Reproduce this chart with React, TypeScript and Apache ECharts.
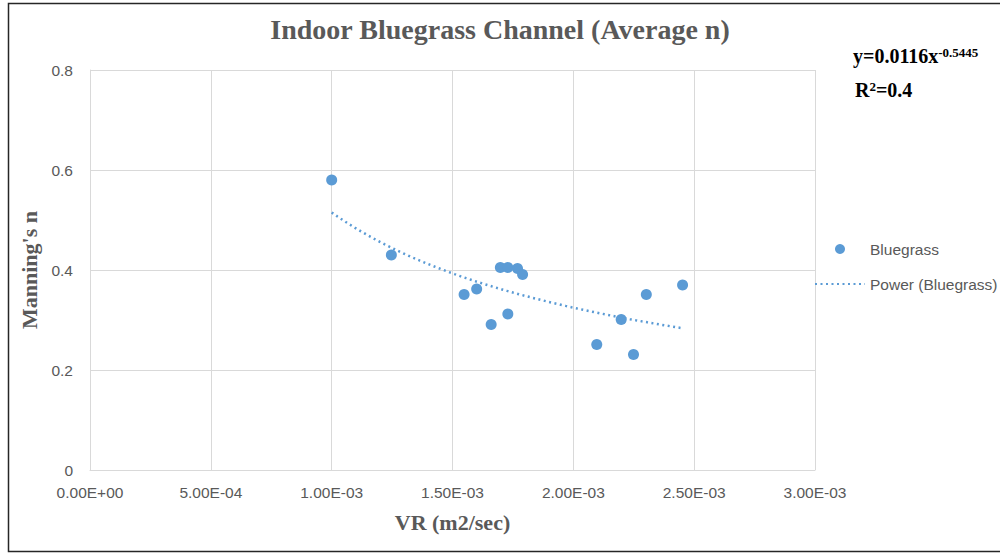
import React, { useEffect, useRef } from "react";
import * as echarts from "echarts";

const vrValues = [1.0e-3, 1.247e-3, 1.548e-3, 1.6e-3, 1.66e-3, 1.698e-3, 1.729e-3, 1.729e-3, 1.769e-3, 1.79e-3, 2.097e-3, 2.198e-3, 2.249e-3, 2.302e-3, 2.452e-3];
const manningN = [0.58, 0.43, 0.351, 0.362, 0.291, 0.405, 0.405, 0.312, 0.403, 0.391, 0.251, 0.301, 0.231, 0.351, 0.37];
const xTicks = { min: 0, max: 0.003, interval: 0.0005 };
const yTicks = { min: 0, max: 0.8, interval: 0.2 };
const seriesName = "Bluegrass";
const trendName = "Power (Bluegrass)";

function powerFit(xs: number[], ys: number[]) {
  const lx = xs.map(Math.log);
  const ly = ys.map(Math.log);
  const n = xs.length;
  const mx = lx.reduce((a, b) => a + b, 0) / n;
  const my = ly.reduce((a, b) => a + b, 0) / n;
  let sxy = 0, sxx = 0;
  for (let i = 0; i < n; i++) {
    sxy += (lx[i] - mx) * (ly[i] - my);
    sxx += (lx[i] - mx) * (lx[i] - mx);
  }
  const b = sxy / sxx;
  const a = Math.exp(my - b * mx);
  return { a, b };
}

function sciFormat(v: number) {
  const s = v.toExponential(2);
  const [m, e] = s.split("e");
  const sign = e[0] === "-" ? "-" : "+";
  const digits = e.replace(/^[+-]/, "").padStart(2, "0");
  return `${m}E${sign}${digits}`;
}

export default function App() {
  const ref = useRef<HTMLDivElement>(null);
  useEffect(() => {
    if (!ref.current) return;
    const chart = echarts.init(ref.current, null, { renderer: "svg" });
    const { a, b } = powerFit(vrValues, manningN);
    const xmin = Math.min(...vrValues);
    const xmax = Math.max(...vrValues);
    const steps = 60;
    const trend: number[][] = [];
    for (let i = 0; i <= steps; i++) {
      const x = xmin + ((xmax - xmin) * i) / steps;
      trend.push([x, a * Math.pow(x, b)]);
    }
    const blue = "#5B9BD5";
    const gray = "#595959";
    const serif = "'Liberation Serif', 'Times New Roman', serif";
    const sans = "'Liberation Sans', Arial, sans-serif";
    chart.setOption({
      animation: false,
      backgroundColor: "#fff",
      title: {
        text: "Indoor Bluegrass Channel (Average n)",
        left: "center",
        top: 10,
        textStyle: { fontFamily: serif, fontWeight: "bold", fontSize: 28, color: gray },
      },
      grid: { left: 90, right: 185, top: 70, bottom: 84 },
      legend: {
        orient: "vertical",
        left: 814,
        top: 241,
        padding: 0,
        itemWidth: 50,
        itemHeight: 10,
        itemGap: 19,
        textStyle: { fontFamily: sans, fontSize: 15.5, color: gray },
        data: [
          { name: seriesName, icon: "circle" },
          { name: trendName, itemStyle: { opacity: 0 } },
        ],
      },
      xAxis: {
        type: "value",
        min: xTicks.min,
        max: xTicks.max,
        interval: xTicks.interval,
        name: "VR (m2/sec)",
        nameLocation: "middle",
        nameGap: 41,
        nameTextStyle: { fontFamily: serif, fontWeight: "bold", fontSize: 22, color: gray },
        axisLine: { lineStyle: { color: "#d9d9d9" } },
        axisTick: { show: false },
        splitLine: { show: true, lineStyle: { color: "#d9d9d9" } },
        axisLabel: { formatter: sciFormat, fontFamily: sans, fontSize: 15.5, color: gray, margin: 14 },
      },
      yAxis: {
        type: "value",
        min: yTicks.min,
        max: yTicks.max,
        interval: yTicks.interval,
        name: "Manning's n",
        nameLocation: "middle",
        nameGap: 47,
        nameTextStyle: { fontFamily: serif, fontWeight: "bold", fontSize: 22, color: gray },
        axisLine: { show: true, lineStyle: { color: "#d9d9d9" } },
        axisTick: { show: false },
        splitLine: { show: true, lineStyle: { color: "#d9d9d9" } },
        axisLabel: { fontFamily: sans, fontSize: 15.5, color: gray, margin: 17 },
      },
      series: [
        {
          name: seriesName,
          type: "scatter",
          data: vrValues.map((x, i) => [x, manningN[i]]),
          symbolSize: 11,
          itemStyle: { color: blue, opacity: 1 },
          z: 3,
        },
        {
          name: trendName,
          type: "line",
          data: trend,
          showSymbol: false,
          symbol: "none",
          smooth: false,
          lineStyle: { color: blue, width: 2.5, type: [2, 3.5] },
          itemStyle: { color: blue },
          z: 2,
        },
      ],
      graphic: [
        {
          type: "rect",
          shape: { x: 8.5, y: 3.5, width: 1000, height: 548 },
          style: { fill: "none", stroke: "#262626", lineWidth: 1.5 },
          silent: true,
        },
        {
          type: "text",
          left: 853,
          top: 46,
          style: {
            text: "{m|y=0.0116x}{s|-0.5445}",
            rich: {
              m: { fontFamily: serif, fontWeight: "bold", fontSize: 20, fill: "#000" },
              s: { fontFamily: serif, fontWeight: "bold", fontSize: 13, fill: "#000", verticalAlign: "top" },
            },
          },
        },
        {
          type: "text",
          left: 855,
          top: 80,
          style: {
            text: "{m|R}{s|2}{m|=0.4}",
            rich: {
              m: { fontFamily: serif, fontWeight: "bold", fontSize: 20, fill: "#000" },
              s: { fontFamily: serif, fontWeight: "bold", fontSize: 13, fill: "#000", verticalAlign: "top" },
            },
          },
        },
      ],
    });
    return () => chart.dispose();
  }, []);
  return (
    <div
      ref={ref}
      style={{ position: "absolute", left: 0, top: 0, width: 1000, height: 554 }}
    />
  );
}
